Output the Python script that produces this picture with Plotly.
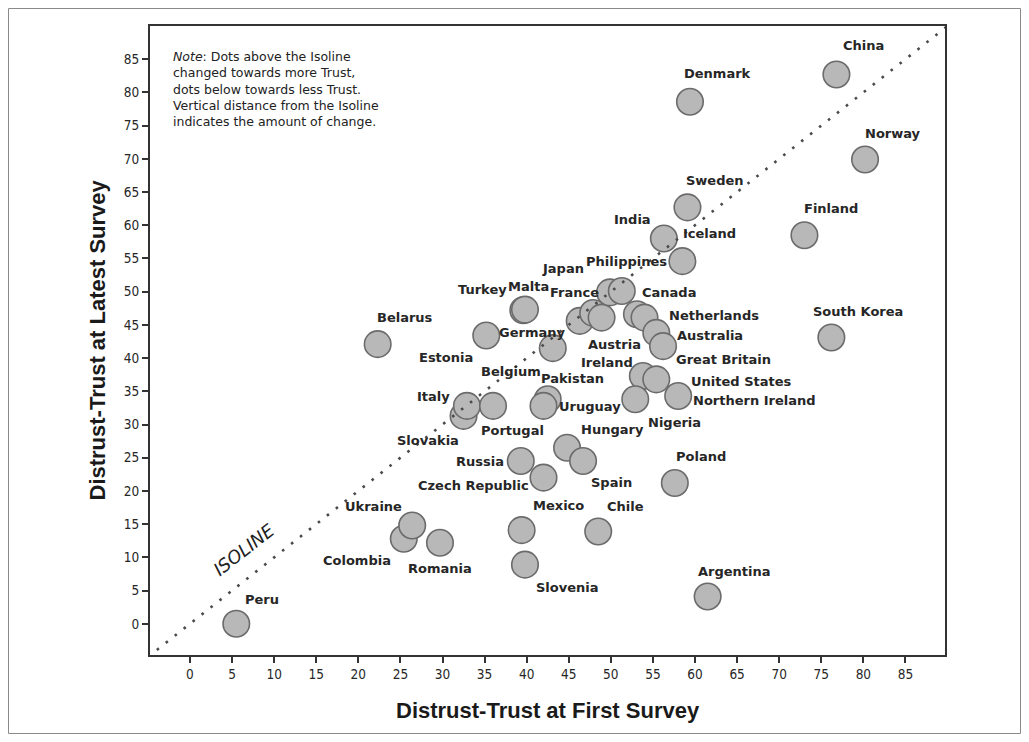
import plotly.graph_objects as go

# ---------------- data ----------------
countries = ["Peru", "Colombia", "Ukraine", "Romania", "Mexico", "Slovenia", "Chile",
             "Argentina", "Poland", "Russia", "Czech Republic", "Hungary", "Spain",
             "Slovakia", "Italy", "Portugal", "Belgium", "Estonia", "Belarus", "Turkey",
             "Malta", "Germany", "France", "Austria", "Pakistan", "Uruguay", "Japan",
             "Philippines", "Canada", "Netherlands", "Australia", "Great Britain",
             "Ireland", "United States", "Northern Ireland", "Nigeria", "India",
             "Iceland", "Sweden", "Finland", "Denmark", "China", "Norway", "South Korea"]
first_survey = [5.5, 25.4, 26.4, 29.7, 39.4, 39.8, 48.5,
                61.5, 57.6, 39.3, 42.0, 44.8, 46.7,
                32.5, 32.9, 36.0, 43.1, 35.2, 22.3, 39.6,
                39.8, 46.3, 47.9, 48.9, 42.5, 42.0, 49.9,
                51.3, 53.1, 54.0, 55.4, 56.2,
                53.8, 55.4, 58.0, 52.9, 56.3,
                58.5, 59.1, 73.0, 59.4, 76.8, 80.2, 76.2]
latest_survey = [0.0, 12.8, 14.8, 12.2, 14.1, 8.9, 13.9,
                 4.1, 21.2, 24.5, 22.0, 26.5, 24.5,
                 31.3, 32.8, 32.8, 41.5, 43.4, 42.1, 47.2,
                 47.3, 45.6, 46.8, 46.1, 33.8, 32.8, 49.9,
                 50.1, 46.6, 46.1, 43.8, 41.8,
                 37.3, 36.8, 34.3, 33.8, 58.0,
                 54.6, 62.7, 58.5, 78.6, 82.7, 69.9, 43.1]
tick_values = list(range(0, 90, 5))
isoline_ends = [-5, 91]
note_lines = ["<i>Note</i>: Dots above the Isoline",
              "changed towards more Trust,",
              "dots below towards less Trust.",
              "Vertical distance from the Isoline",
              "indicates the amount of change."]
x_title = "Distrust-Trust at First Survey"
y_title = "Distrust-Trust at Latest Survey"

# ---------------- label placement (pixel shifts from each dot) ----------------
label_shift = {
    "Peru": (26, 24), "Colombia": (-47, -22), "Ukraine": (-39, 19), "Romania": (0, -26),
    "Mexico": (37, 25), "Slovenia": (43, -23), "Chile": (27, 25), "Argentina": (27, 25),
    "Poland": (26, 26), "Russia": (-41, 0), "Czech Republic": (-70, -8), "Hungary": (45, 18),
    "Spain": (28, -21), "Slovakia": (-36, -25), "Italy": (-33, 9), "Portugal": (19, -25),
    "Belgium": (-42, -23), "Estonia": (-40, -22), "Belarus": (27, 27), "Turkey": (-41, 21),
    "Malta": (4, 23), "Germany": (-48, -12), "France": (-19, 20), "Austria": (13, -27),
    "Pakistan": (25, 21), "Uruguay": (46, -1), "Japan": (-47, 24), "Philippines": (5, 30),
    "Canada": (32, 22), "Netherlands": (69, 2), "Australia": (54, -3),
    "Great Britain": (60, -13), "Ireland": (-36, 14), "United States": (85, -2),
    "Northern Ireland": (76, -5), "Nigeria": (39, -23), "India": (-31, 19),
    "Iceland": (27, 28), "Sweden": (28, 27), "Finland": (27, 27), "Denmark": (28, 28),
    "China": (27, 29), "Norway": (28, 26), "South Korea": (27, 26),
}

# page has an 8px body margin: figure occupies screen x 8..1021, y 8..734
OFF = 8
FIG_W, FIG_H = 1029 - 2 * OFF, 742 - 2 * OFF
# plot area in screen pixels
L, R, T, B = 150, 945, 26, 655
PW, PH = R - L, B - T

def px(xp):
    return (xp - L) / PW

def py(yp):
    return (B - yp) / PH

fig = go.Figure()

fig.add_trace(go.Scatter(
    x=first_survey, y=latest_survey, mode="markers", text=countries,
    marker=dict(size=26.5, color="#b8b8b8", line=dict(color="#6b6b6b", width=1.6)),
    hovertemplate="%{text}<br>%{x}, %{y}<extra></extra>", showlegend=False,
))

fig.add_trace(go.Scatter(
    x=isoline_ends, y=isoline_ends, mode="lines",
    line=dict(color="#4a4a4a", width=2.6, dash="2.6px,8.8px"),
    hoverinfo="skip", showlegend=False,
))

annotations = []
for name, xv, yv in zip(countries, first_survey, latest_survey):
    dx, dy = label_shift[name]
    annotations.append(dict(
        x=xv, y=yv, xref="x", yref="y", text=name, showarrow=False,
        xshift=dx, yshift=dy, xanchor="center", yanchor="middle",
        font=dict(family="DejaVu Sans", size=13, color="#262626", weight="bold"),
    ))

annotations.append(dict(
    x=px(172), y=py(89), xref="paper", yref="paper", text="<br>".join(note_lines),
    showarrow=False, xanchor="left", yanchor="middle", align="left", borderpad=0,
    font=dict(family="DejaVu Sans", size=12.5, color="#222222"),
))

annotations.append(dict(
    x=6.4, y=11.2, xref="x", yref="y", text="<i>ISOLINE</i>", showarrow=False,
    textangle=-38, xanchor="center", yanchor="middle",
    font=dict(family="DejaVu Sans", size=18, color="#222222"),
))

annotations.append(dict(
    x=0.5, y=py(710), xref="paper", yref="paper", text=x_title, showarrow=False,
    xanchor="center", yanchor="middle",
    font=dict(family="Liberation Sans", size=22, color="#1a1a1a", weight="bold"),
))
annotations.append(dict(
    x=px(97), y=0.5, xref="paper", yref="paper", text=y_title, showarrow=False,
    textangle=-90, xanchor="center", yanchor="middle",
    font=dict(family="Liberation Sans", size=22, color="#1a1a1a", weight="bold"),
))

axis_common = dict(
    showgrid=False, zeroline=False, showline=True, mirror=True,
    linecolor="#333333", linewidth=2, ticks="outside", ticklen=6, tickwidth=2,
    tickcolor="#333333", tickvals=tick_values,
    tickfont=dict(family="DejaVu Sans Condensed, DejaVu Sans", size=13.5, color="#262626"),
)

fig.update_layout(
    width=FIG_W, height=FIG_H,
    margin=dict(l=L - OFF, r=OFF + FIG_W - R, t=T - OFF, b=OFF + FIG_H - B),
    paper_bgcolor="white", plot_bgcolor="white",
    xaxis=dict(range=[-4.75, 89.7], **axis_common),
    yaxis=dict(range=[-4.7, 90.0], **axis_common),
    annotations=annotations,
    shapes=[dict(type="rect", xref="paper", yref="paper",
                 x0=px(OFF + 0.5), x1=px(OFF + FIG_W - 0.5),
                 y0=py(OFF + FIG_H - 0.5), y1=py(OFF + 0.5),
                 line=dict(color="#8a8a8a", width=1), layer="below")],
)

fig.write_html("out.html")
